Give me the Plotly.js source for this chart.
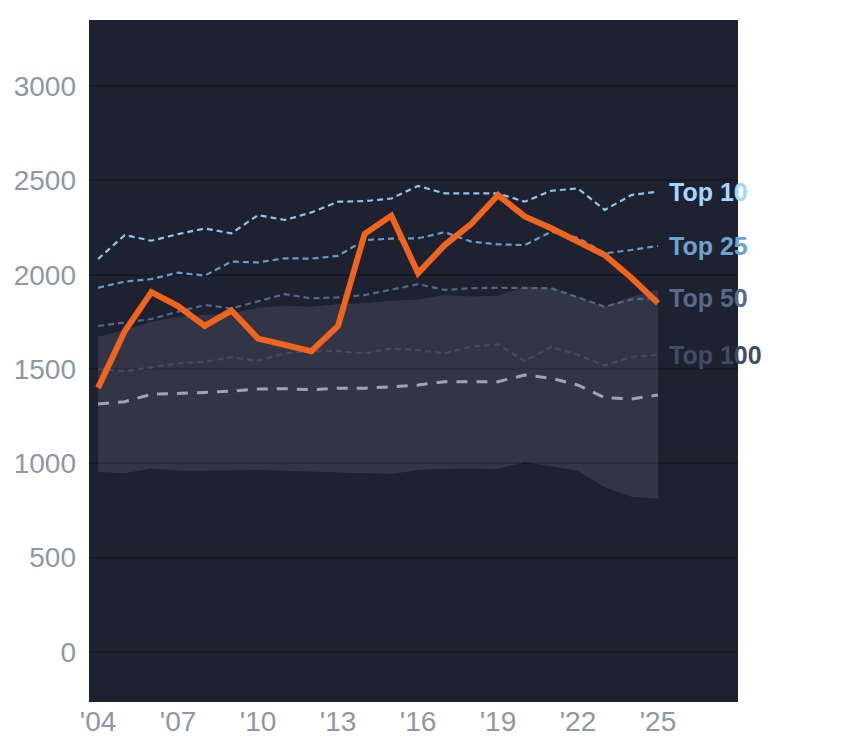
<!DOCTYPE html>
<html>
<head>
<meta charset="utf-8">
<script src="https://cdn.plot.ly/plotly-3.0.1.min.js"></script>
<style>
  html, body { margin: 0; padding: 0; background: #ffffff; }
  #myDiv { width: 844px; height: 748px; }
</style>
</head>
<body>
<div id="myDiv"></div>
<script>
  // years on the x axis
  var years = [2004, 2005, 2006, 2007, 2008, 2009, 2010, 2011, 2012, 2013, 2014,
               2015, 2016, 2017, 2018, 2019, 2020, 2021, 2022, 2023, 2024, 2025];

  // main series (orange)
  var mainSeries = [1400, 1700, 1908, 1834, 1729, 1810, 1661, 1629, 1595, 1729, 2217,
                    2313, 2008, 2157, 2270, 2422, 2309, 2246, 2178, 2104, 1984, 1849];

  // reference lines
  var top10  = [2083, 2210, 2180, 2215, 2245, 2219, 2316, 2290, 2330, 2387, 2390,
                2404, 2470, 2431, 2431, 2431, 2387, 2445, 2457, 2343, 2422, 2440];
  var top25  = [1931, 1963, 1977, 2011, 1995, 2069, 2065, 2087, 2085, 2100, 2184,
                2191, 2193, 2225, 2175, 2161, 2157, 2228, 2195, 2113, 2131, 2153];
  var top50  = [1728, 1747, 1765, 1804, 1839, 1821, 1857, 1897, 1875, 1880, 1892,
                1919, 1950, 1919, 1928, 1931, 1928, 1928, 1880, 1830, 1869, 1875];
  var top100 = [1500, 1489, 1509, 1530, 1539, 1562, 1544, 1583, 1595, 1595, 1583,
                1610, 1600, 1583, 1618, 1631, 1542, 1618, 1574, 1518, 1565, 1574];
  var median = [1314, 1327, 1366, 1370, 1376, 1383, 1394, 1396, 1390, 1398, 1398,
                1406, 1415, 1433, 1433, 1433, 1468, 1451, 1415, 1348, 1341, 1362];

  // shaded range
  var bandLow  = [956, 947, 973, 961, 961, 965, 965, 961, 956, 953, 947,
                  944, 965, 972, 973, 970, 1007, 982, 961, 873, 823, 812];
  var bandHigh = [1671, 1707, 1751, 1777, 1786, 1795, 1825, 1835, 1830, 1844, 1848,
                  1862, 1869, 1892, 1885, 1888, 1936, 1930, 1883, 1830, 1883, 1922];

  var tickYears = [2004, 2007, 2010, 2013, 2016, 2019, 2022, 2025];
  var tickText = ["'04", "'07", "'10", "'13", "'16", "'19", "'22", "'25"];

  var refNames  = ["Top 10", "Top 25", "Top 50", "Top 100"];
  var refSeries = [top10, top25, top50, top100];
  var refColors = ["#8fc4ec", "#6b9bc9", "#52688a", "#3f4b64"];
  var labelColors = ["#a6d6ff", "#6fa2cf", "#58698a", "#414c64"];

  var data = [
    {x: years, y: bandLow, mode: "lines", line: {width: 0, color: "rgba(0,0,0,0)"},
     hoverinfo: "skip", showlegend: false},
    {x: years, y: bandHigh, mode: "lines", line: {width: 0, color: "rgba(0,0,0,0)"},
     fill: "tonexty", fillcolor: "rgba(210,220,245,0.11)", hoverinfo: "skip", showlegend: false}
  ];

  for (let i = refSeries.length - 1; i >= 0; i--) {
    data.push({
      x: years, y: refSeries[i], mode: "lines", name: refNames[i],
      line: {color: refColors[i], width: 2.2, dash: "6px,4px"}
    });
  }

  data.push({x: years, y: median, mode: "lines", name: "median",
             line: {color: "#9fa5b0", width: 3, dash: "11px,9px"}});
  data.push({x: years, y: mainSeries, mode: "lines", name: "main",
             line: {color: "#f0641e", width: 6}});

  var annotations = [];
  for (let i = 0; i < refNames.length; i++) {
    annotations.push({
      x: years[years.length - 1], y: refSeries[i][refSeries[i].length - 1],
      xref: "x", yref: "y", text: refNames[i], showarrow: false,
      xanchor: "left", yanchor: "middle", xshift: 9,
      font: {family: "Liberation Sans, Arial, sans-serif", size: 25, color: labelColors[i], weight: "bold"}
    });
  }

  var layout = {
    width: 844,
    height: 748,
    margin: {t: 20, b: 46, l: 89, r: 106},
    paper_bgcolor: "#ffffff",
    plot_bgcolor: "#1e2130",
    showlegend: false,
    font: {family: "Liberation Sans, Arial, sans-serif", color: "#8e97a6"},
    xaxis: {
      range: [2003.66, 2028],
      tickvals: tickYears, ticktext: tickText,
      showgrid: false, zeroline: false, showline: false,
      tickfont: {size: 28, color: "#8e97a6"}, ticklen: 0
    },
    yaxis: {
      range: [-265, 3350],
      dtick: 500, tick0: 0,
      gridcolor: "#161a24", gridwidth: 2,
      zeroline: false, showline: false,
      tickfont: {size: 28, color: "#8e97a6"}, ticks: "", ticklabelstandoff: 12
    },
    annotations: annotations
  };

  Plotly.newPlot('myDiv', data, layout, {displayModeBar: false, staticPlot: true});
</script>
</body>
</html>
